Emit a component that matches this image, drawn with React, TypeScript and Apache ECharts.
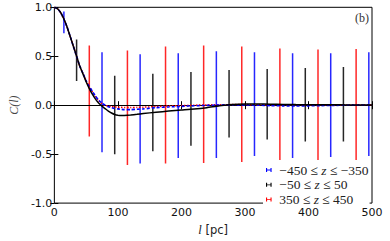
import React, { useEffect, useRef } from 'react';
import * as echarts from 'echarts';

// Error bars (l in pc, lower / upper bound of C(l))
const L_BLUE = [15, 75, 135, 195, 255, 315, 375, 435, 495];
const BLUE_LOW = [0.735, -0.48, -0.595, -0.54, -0.54, -0.52, -0.54, -0.53, -0.52];
const BLUE_HIGH = [0.958, 0.54, 0.52, 0.53, 0.55, 0.54, 0.53, 0.53, 0.54];
const L_BLACK = [35, 95, 155, 215, 275, 335, 395, 455];
const BLACK_LOW = [0.248, -0.5, -0.47, -0.415, -0.33, -0.35, -0.37, -0.37];
const BLACK_HIGH = [0.67, 0.3, 0.32, 0.34, 0.36, 0.37, 0.38, 0.39];
const L_RED = [55, 115, 175, 235, 295, 355, 415, 475];
const RED_LOW = [-0.32, -0.61, -0.595, -0.59, -0.58, -0.62, -0.62, -0.62];
const RED_HIGH = [0.61, 0.56, 0.6, 0.61, 0.6, 0.58, 0.57, 0.575];

// Mean correlation curves
const L_CURVE = [0, 5, 10, 15, 20, 25, 30, 35, 40, 45, 50, 55, 60, 65, 70, 75, 80, 85, 90, 95, 100, 105, 110, 120, 130, 140, 160, 180, 200, 220, 240, 260, 280, 300, 320, 340, 360, 380, 400, 420, 440, 460, 480, 500];
const BLACK_C = [1.0, 0.985, 0.945, 0.88, 0.8, 0.7, 0.6, 0.5, 0.4, 0.32, 0.24, 0.17, 0.11, 0.06, 0.02, -0.01, -0.035, -0.06, -0.08, -0.095, -0.103, -0.106, -0.105, -0.1, -0.093, -0.085, -0.072, -0.06, -0.05, -0.04, -0.025, -0.005, 0.008, 0.012, 0.012, 0.01, 0.008, 0.006, 0.005, 0.004, 0.004, 0.003, 0.003, 0.003];
const BLUE_C = [1.0, 0.985, 0.945, 0.88, 0.8, 0.7, 0.6, 0.5, 0.4, 0.325, 0.25, 0.19, 0.14, 0.09, 0.05, 0.02, 0.0, -0.015, -0.025, -0.033, -0.038, -0.042, -0.045, -0.045, -0.042, -0.038, -0.025, -0.018, -0.012, -0.006, -0.002, 0.002, 0.004, 0.003, 0.0, -0.004, -0.007, -0.008, -0.007, -0.004, -0.002, 0.0, 0.001, 0.002];
const RED_C = [1.0, 0.985, 0.945, 0.88, 0.8, 0.7, 0.6, 0.5, 0.4, 0.325, 0.25, 0.19, 0.135, 0.085, 0.045, 0.015, -0.002, -0.01, -0.015, -0.018, -0.02, -0.022, -0.024, -0.024, -0.022, -0.02, -0.014, -0.008, -0.004, 0.0, 0.003, 0.005, 0.006, 0.006, 0.005, 0.004, 0.004, 0.004, 0.003, 0.003, 0.003, 0.003, 0.003, 0.003];

const X_TICKS = [0, 100, 200, 300, 400, 500];
const Y_TICKS = [-1.0, -0.5, 0.0, 0.5, 1.0];

const NAME_BLUE = '−450 ≤ z ≤ −350';
const NAME_BLACK = '−50 ≤ z ≤ 50';
const NAME_RED = '350 ≤ z ≤ 450';

function errSeries(name: string, xs: number[], lo: number[], hi: number[], color: string, opacity: number) {
  return {
    type: 'custom',
    name,
    data: xs.map((x, i) => [x, lo[i], hi[i]]),
    encode: { x: 0, y: [1, 2] },
    itemStyle: { color },
    z: 2,
    clip: true,
    renderItem: (_params: any, api: any) => {
      const a = api.coord([api.value(0), api.value(1)]);
      const b = api.coord([api.value(0), api.value(2)]);
      return {
        type: 'line',
        shape: { x1: a[0], y1: a[1], x2: b[0], y2: b[1] },
        style: { stroke: color, lineWidth: 1.5, opacity },
      };
    },
  };
}

function curve(name: string, ys: number[], color: string, lineType: any, z: number, width: number) {
  return {
    type: 'line',
    name,
    data: L_CURVE.map((l, i) => [l, ys[i]]),
    showSymbol: false,
    symbol: 'none',
    smooth: 0.2,
    z,
    lineStyle: { color, width, type: lineType },
    itemStyle: { color },
  };
}

const serif = '"Liberation Serif", "DejaVu Serif", serif';
const sans = '"DejaVu Sans", sans-serif';

export default function App() {
  const ref = useRef<HTMLDivElement>(null);
  useEffect(() => {
    document.body.style.margin = '0';
    const chart = echarts.init(ref.current!, null, { renderer: 'svg' });
    const tickX = { show: true, inside: true, length: 4, lineStyle: { color: '#000', width: 1 } };
    chart.setOption({
      animation: false,
      grid: { left: 37.5, right: 18, top: 7.3, bottom: 30.3, show: true, borderColor: '#000', borderWidth: 1, backgroundColor: 'transparent' },
      xAxis: [
        {
          type: 'value', min: X_TICKS[0], max: X_TICKS[X_TICKS.length - 1], interval: 100,
          axisLine: { show: false }, splitLine: { show: false }, axisTick: tickX,
          axisLabel: { margin: 4, fontFamily: sans, fontSize: 11, color: '#111' },
          name: '{i|l}{n| [pc]}', nameLocation: 'middle', nameGap: 17,
          nameTextStyle: {
            rich: {
              i: { fontFamily: serif, fontStyle: 'italic', fontSize: 12.5, color: '#222' },
              n: { fontFamily: sans, fontSize: 11.5, color: '#222' },
            },
          },
        },
        {
          type: 'value', position: 'top', min: 0, max: 500, interval: 100,
          axisLine: { show: false }, splitLine: { show: false }, axisTick: tickX, axisLabel: { show: false },
        },
      ],
      yAxis: [
        {
          type: 'value', min: Y_TICKS[0], max: Y_TICKS[Y_TICKS.length - 1], interval: 0.5,
          axisLine: { show: false }, splitLine: { show: false }, axisTick: tickX,
          axisLabel: { margin: 2, fontFamily: sans, fontSize: 11, color: '#111', formatter: (v: number) => v.toFixed(1) },
          name: 'C(l)', nameLocation: 'middle', nameGap: 22, nameRotate: 90,
          nameTextStyle: { fontFamily: serif, fontStyle: 'italic', fontSize: 12, color: '#444' },
        },
        {
          type: 'value', position: 'right', min: -1, max: 1, interval: 0.5,
          axisLine: { show: false }, splitLine: { show: false }, axisTick: tickX, axisLabel: { show: false },
        },
      ],
      legend: {
        data: [NAME_BLUE, NAME_BLACK, NAME_RED],
        orient: 'vertical',
        left: 263,
        top: 160,
        padding: [3, 1, 1, 3],
        itemGap: 0.8,
        itemWidth: 7,
        itemHeight: 4,
        backgroundColor: '#fff',
        icon: 'path://M0,0h1.4v2h4.2v-2h1.4v5h-1.4v-2h-4.2v2h-1.4z',
        formatter: (name: string) => {
          const [a, b] = name.split('z');
          return `{g|}{n|${a}}{i|z}{n|${b}}`;
        },
        textStyle: {
          fontFamily: serif,
          fontSize: 13.5,
          lineHeight: 13.5,
          rich: {
            g: { width: 2, fontSize: 13.5, lineHeight: 13.5 },
            n: { fontFamily: serif, fontSize: 13.5, lineHeight: 13.5, color: '#222' },
            i: { fontFamily: serif, fontStyle: 'italic', fontSize: 13.5, lineHeight: 13.5, color: '#222' },
          },
        },
      },
      graphic: [
        {
          type: 'text', right: 21, top: 12,
          style: { text: '(b)', font: `12px ${serif}`, fill: '#333' },
        },
      ],
      series: [
        errSeries(NAME_BLUE, L_BLUE, BLUE_LOW, BLUE_HIGH, '#0000ff', 0.85),
        errSeries(NAME_BLACK, L_BLACK, BLACK_LOW, BLACK_HIGH, '#000000', 0.85),
        errSeries(NAME_RED, L_RED, RED_LOW, RED_HIGH, '#ff0000', 0.85),
        curve('mean ' + NAME_RED, RED_C, '#ff0000', [1.5, 1.5], 5, 1.5),
        curve('mean ' + NAME_BLUE, BLUE_C, '#0000ff', [3, 2], 6, 1.6),
        {
          ...curve('mean ' + NAME_BLACK, BLACK_C, '#000000', 'solid', 7, 1.5),
          markLine: {
            silent: true, symbol: 'none', label: { show: false },
            lineStyle: { color: '#000', width: 1.2, type: 'solid' },
            data: [{ yAxis: 0 }],
          },
        },
      ],
    });
    return () => chart.dispose();
  }, []);
  return <div ref={ref} style={{ width: 390, height: 241 }} />;
}
